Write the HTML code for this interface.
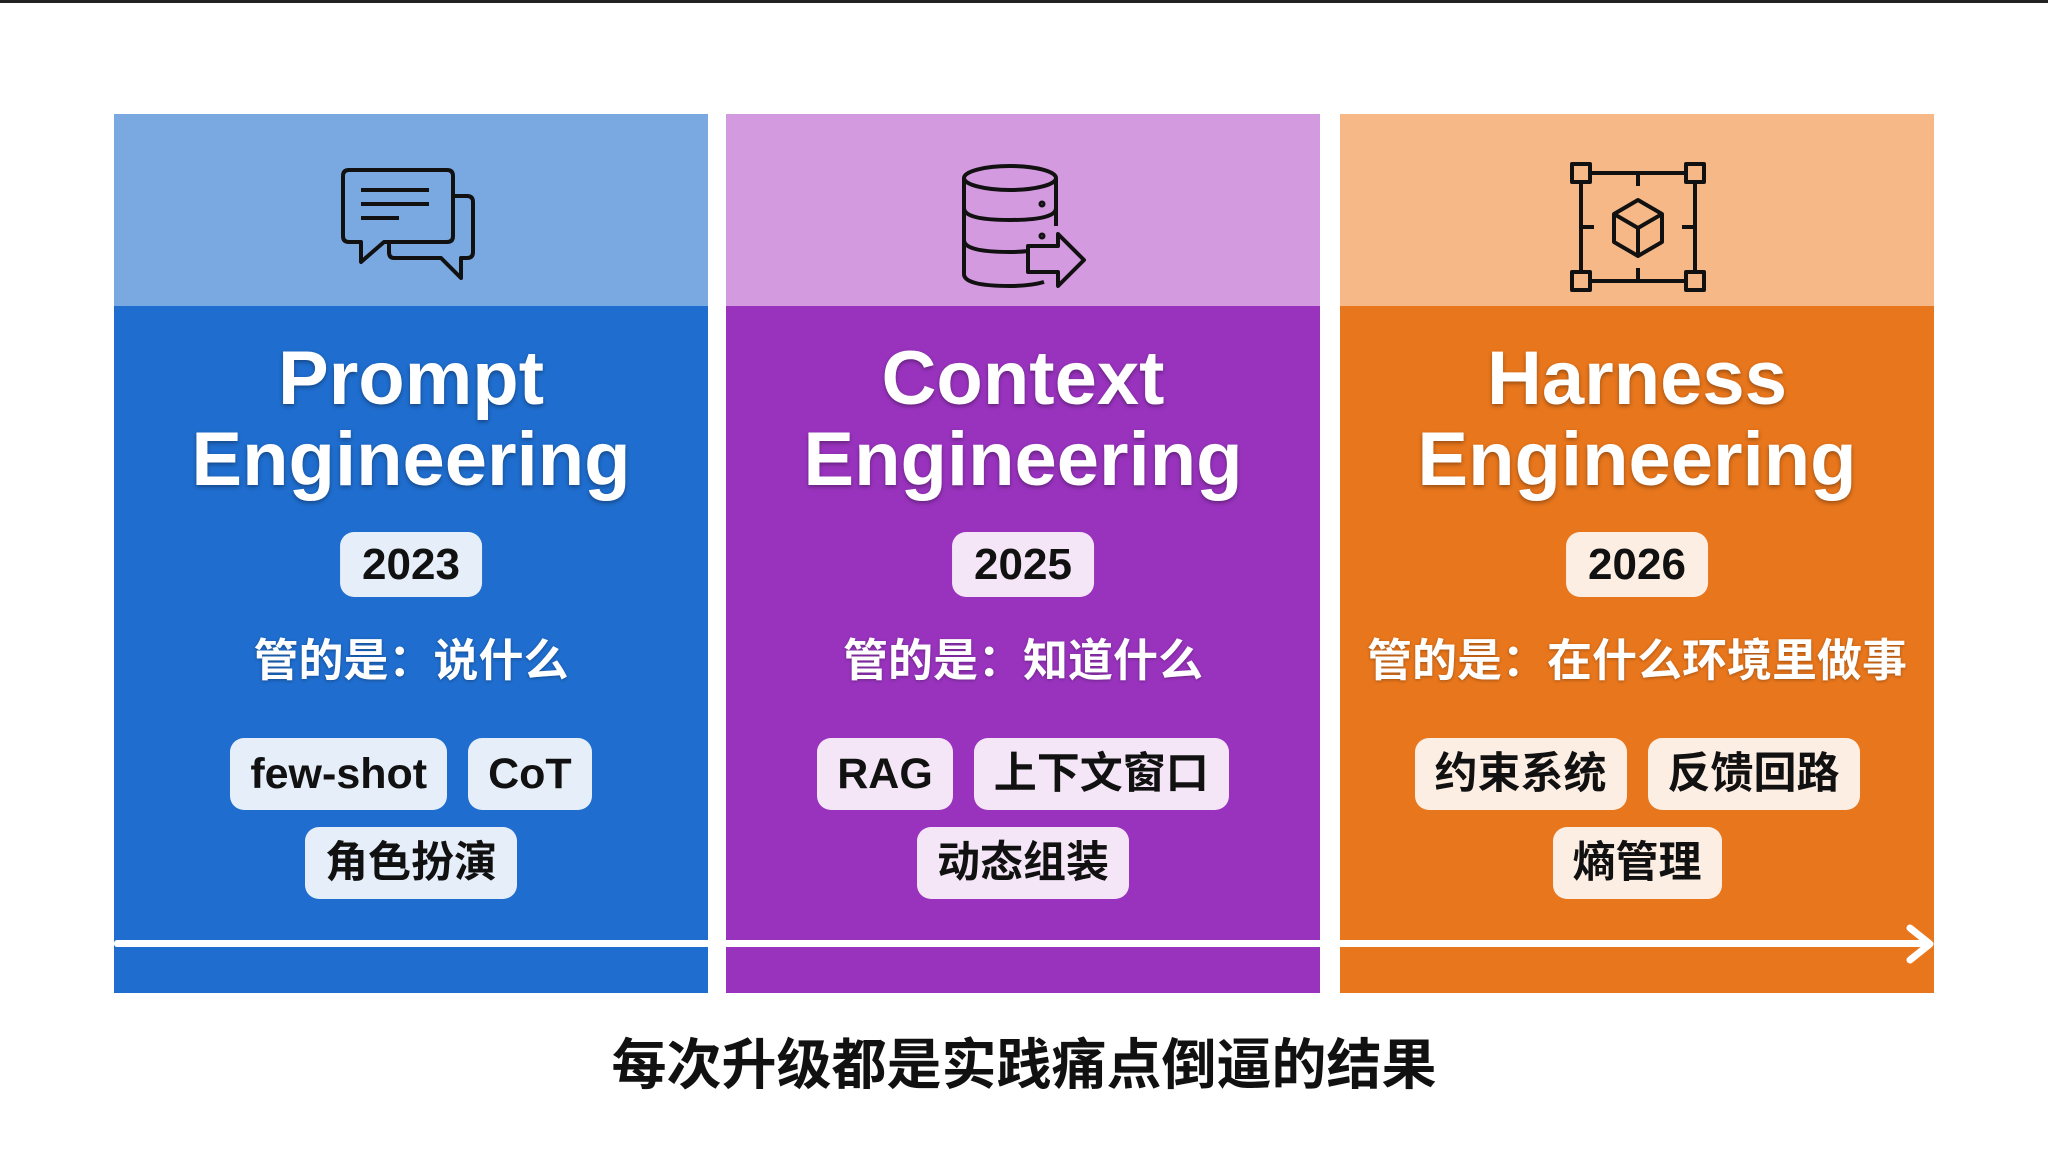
<!DOCTYPE html>
<html><head><meta charset="utf-8"><style>
body{margin:0;width:2048px;height:1150px;background:#fff;position:relative;overflow:hidden;font-family:"Liberation Sans","Noto Sans CJK SC",sans-serif}
.topline{position:absolute;left:0;top:0;width:2048px;height:3px;background:#222}
.panel{position:absolute;top:114px;width:594px;height:879px}
.hd{position:absolute;left:0;top:0;width:100%;height:192px}
.bd{position:absolute;left:0;top:192px;width:100%;height:687px}
.title{position:absolute;left:0;width:100%;text-align:center;color:#fff;font-weight:bold;font-size:76px;line-height:80px;text-shadow:0 2px 4px rgba(0,0,0,.35)}
.year{position:absolute;top:418px;height:65px;left:50%;transform:translateX(-50%);padding:0 22px;border-radius:14px;font-weight:bold;font-size:44px;line-height:65px;color:#111}
.sub{position:absolute;top:518px;width:100%;text-align:center;color:#fff;font-weight:bold;font-size:45px;line-height:58px;text-shadow:0 1px 3px rgba(0,0,0,.3)}
.row{position:absolute;left:0;width:100%;display:flex;justify-content:center;gap:21px}
.tag{height:72px;line-height:72px;padding:0 20px;border-radius:14px;font-weight:bold;font-size:43px;color:#111}
.arrow{position:absolute;left:114px;top:940px;width:1812px;height:7px;background:#fff;border-radius:3px}
.cap{position:absolute;top:1030px;width:100%;text-align:center;font-weight:bold;font-size:55px;color:#111;line-height:70px}
</style></head><body>
<div class="topline"></div>

<div class="panel" style="left:114px">
 <div class="hd" style="background:#7AA8E1"></div>
 <div class="bd" style="background:#1F6DCE"></div>
 <svg style="position:absolute;left:225px;top:52px" width="140" height="120" viewBox="0 0 140 120" fill="none" stroke="#111" stroke-width="4" stroke-linejoin="round">
  <path d="M10 4 H108 Q114 4 114 10 V70 Q114 76 108 76 H45 L22 96 V76 H10 Q4 76 4 70 V10 Q4 4 10 4Z"/>
  <path d="M114 30 H128 Q134 30 134 36 V86 Q134 92 128 92 H122 V112 L102 92 H55 Q50 92 50 86 V76"/>
  <path d="M22 24 H90 M22 38 H90 M22 52 H60"/>
 </svg>
 <div class="title" style="top:225px">Prompt</div>
 <div class="title" style="top:306px">Engineering</div>
 <div class="year" style="background:#E6EFF9">2023</div>
 <div class="sub">管的是：说什么</div>
 <div class="row" style="top:624px"><div class="tag" style="background:#E6EFF9">few-shot</div><div class="tag" style="background:#E6EFF9">CoT</div></div>
 <div class="row" style="top:713px"><div class="tag" style="background:#E6EFF9">角色扮演</div></div>
</div>

<div class="panel" style="left:726px">
 <div class="hd" style="background:#D49AE0"></div>
 <div class="bd" style="background:#9933BE"></div>
 <svg style="position:absolute;left:234px;top:50px" width="130" height="126" viewBox="0 0 130 126" fill="none" stroke="#111" stroke-width="4" stroke-linejoin="round">
  <ellipse cx="50" cy="14" rx="46" ry="12"/>
  <path d="M4 14 V110 Q4 122 50 122 Q70 122 84 118"/>
  <path d="M96 14 V62"/>
  <path d="M4 44 Q4 56 50 56 Q96 56 96 44"/>
  <path d="M4 76 Q4 88 50 88 Q60 88 68 87"/>
  <circle cx="82" cy="40" r="1.5"/><circle cx="82" cy="72" r="1.5"/>
  <path d="M68 82 H98 V70 L124 96 L98 122 V108 H68 Z"/>
 </svg>
 <div class="title" style="top:225px">Context</div>
 <div class="title" style="top:306px">Engineering</div>
 <div class="year" style="background:#F4E6F6">2025</div>
 <div class="sub">管的是：知道什么</div>
 <div class="row" style="top:624px"><div class="tag" style="background:#F4E6F6">RAG</div><div class="tag" style="background:#F4E6F6">上下文窗口</div></div>
 <div class="row" style="top:713px"><div class="tag" style="background:#F4E6F6">动态组装</div></div>
</div>

<div class="panel" style="left:1340px">
 <div class="hd" style="background:#F7B887"></div>
 <div class="bd" style="background:#E8761C"></div>
 <svg style="position:absolute;left:230px;top:48px" width="136" height="130" viewBox="0 0 136 130" fill="none" stroke="#111" stroke-width="4" stroke-linejoin="round">
  <rect x="2" y="2" width="18" height="18"/><rect x="116" y="2" width="18" height="18"/>
  <rect x="2" y="110" width="18" height="18"/><rect x="116" y="110" width="18" height="18"/>
  <path d="M20 11 H116 M20 119 H116 M11 20 V110 M125 20 V110"/>
  <path d="M68 11 V24 M68 106 V119 M11 65 H24 M112 65 H125"/>
  <path d="M68 38 L92 52 V80 L68 94 L44 80 V52 Z M44 52 L68 66 L92 52 M68 66 V94"/>
 </svg>
 <div class="title" style="top:225px">Harness</div>
 <div class="title" style="top:306px">Engineering</div>
 <div class="year" style="background:#FDEEE3">2026</div>
 <div class="sub">管的是：在什么环境里做事</div>
 <div class="row" style="top:624px"><div class="tag" style="background:#FDEEE3">约束系统</div><div class="tag" style="background:#FDEEE3">反馈回路</div></div>
 <div class="row" style="top:713px"><div class="tag" style="background:#FDEEE3">熵管理</div></div>
</div>

<div class="arrow"></div>
<svg style="position:absolute;left:1900px;top:924px" width="40" height="40" viewBox="0 0 40 40"><path d="M10 4 L30 20 L10 36" fill="none" stroke="#fff" stroke-width="7" stroke-linecap="round" stroke-linejoin="round"/></svg>

<div class="cap">每次升级都是实践痛点倒逼的结果</div>
</body></html>
